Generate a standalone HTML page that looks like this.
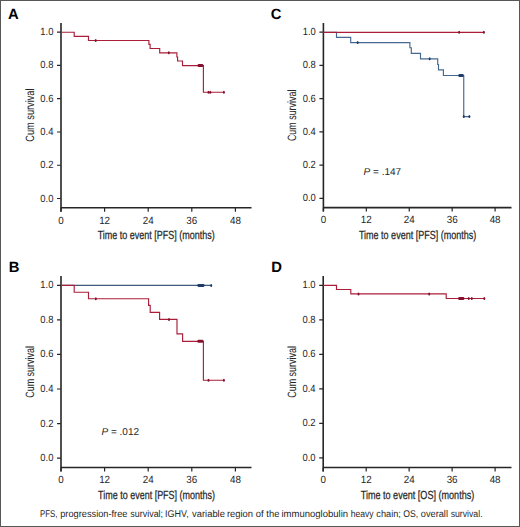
<!DOCTYPE html>
<html><head><meta charset="utf-8"><title>Figure</title>
<style>html,body{margin:0;padding:0;background:#fff;}svg{display:block;text-rendering:geometricPrecision;font-family:"Liberation Sans",sans-serif;}</style>
</head><body>
<svg width="520" height="527" viewBox="0 0 520 527">
<rect x="0" y="0" width="520" height="527" fill="#fff"/>
<rect x="0.5" y="0.5" width="519" height="526" fill="none" stroke="#575757" stroke-width="1"/>
<text x="7.9" y="19.2" font-family="Liberation Sans" font-weight="bold" font-size="14.8" fill="#000">A</text>
<path d="M61,23 V211.7 M61,207.7 H251.5" stroke="#262626" stroke-width="1.6" fill="none"/>
<text transform="translate(53.4,201.5) scale(0.905,1)" text-anchor="end" font-family="Liberation Sans" font-size="10.4" fill="#262626">0.0</text>
<text transform="translate(53.4,168.24) scale(0.905,1)" text-anchor="end" font-family="Liberation Sans" font-size="10.4" fill="#262626">0.2</text>
<text transform="translate(53.4,134.98) scale(0.905,1)" text-anchor="end" font-family="Liberation Sans" font-size="10.4" fill="#262626">0.4</text>
<text transform="translate(53.4,101.72) scale(0.905,1)" text-anchor="end" font-family="Liberation Sans" font-size="10.4" fill="#262626">0.6</text>
<text transform="translate(53.4,68.46) scale(0.905,1)" text-anchor="end" font-family="Liberation Sans" font-size="10.4" fill="#262626">0.8</text>
<text transform="translate(53.4,35.2) scale(0.905,1)" text-anchor="end" font-family="Liberation Sans" font-size="10.4" fill="#262626">1.0</text>
<text transform="translate(61,223.5) scale(0.945,1)" text-anchor="middle" font-family="Liberation Sans" font-size="10.4" fill="#262626">0</text>
<text transform="translate(104.6,223.5) scale(0.945,1)" text-anchor="middle" font-family="Liberation Sans" font-size="10.4" fill="#262626">12</text>
<text transform="translate(148.2,223.5) scale(0.945,1)" text-anchor="middle" font-family="Liberation Sans" font-size="10.4" fill="#262626">24</text>
<text transform="translate(191.8,223.5) scale(0.945,1)" text-anchor="middle" font-family="Liberation Sans" font-size="10.4" fill="#262626">36</text>
<text transform="translate(235.4,223.5) scale(0.945,1)" text-anchor="middle" font-family="Liberation Sans" font-size="10.4" fill="#262626">48</text>
<path d="M57,198.5 H61 M57,165.24 H61 M57,131.98 H61 M57,98.72 H61 M57,65.46 H61 M57,32.2 H61 M61,207.7 V211.7 M104.6,207.7 V211.7 M148.2,207.7 V211.7 M191.8,207.7 V211.7 M235.4,207.7 V211.7" stroke="#262626" stroke-width="1.2" fill="none"/>
<text x="97.7" y="239" font-family="Liberation Sans" font-size="11.8" fill="#262626" stroke="#262626" stroke-width="0.25" textLength="117.1" lengthAdjust="spacingAndGlyphs">Time to event [PFS] (months)</text>
<text transform="translate(34,141.7) rotate(-90)" x="0" y="0" font-family="Liberation Sans" font-size="12.0" fill="#262626" textLength="53.2" lengthAdjust="spacingAndGlyphs">Cum survival</text>
<path d="M61,32.2 H74.2 V36.3 H88.5 V40.5 H148.9 V44.4 H150.1 V48.5 H159.7 V52.8 H176.9 V57 H177.6 V61 H182.5 V65.6 H203.4 V92.2 H223.9" stroke="#ab1e3a" stroke-width="1.15" fill="none"/>
<ellipse cx="95.7" cy="40.5" rx="1.0" ry="1.5" fill="#87102f"/>
<ellipse cx="168.8" cy="52.8" rx="1.0" ry="1.5" fill="#87102f"/>
<ellipse cx="208.5" cy="92.2" rx="1.0" ry="1.5" fill="#87102f"/>
<ellipse cx="210.3" cy="92.2" rx="1.0" ry="1.5" fill="#87102f"/>
<ellipse cx="223.9" cy="92.2" rx="1.0" ry="1.5" fill="#87102f"/>
<rect x="197.5" y="64.1" width="5.9" height="3" rx="1.3" fill="#87102f"/>
<text x="8.7" y="272" font-family="Liberation Sans" font-weight="bold" font-size="14.8" fill="#000">B</text>
<path d="M61,276 V471.5 M61,467.5 H251.5" stroke="#262626" stroke-width="1.6" fill="none"/>
<text transform="translate(53.4,461.1) scale(0.905,1)" text-anchor="end" font-family="Liberation Sans" font-size="10.4" fill="#262626">0.0</text>
<text transform="translate(53.4,426.54) scale(0.905,1)" text-anchor="end" font-family="Liberation Sans" font-size="10.4" fill="#262626">0.2</text>
<text transform="translate(53.4,391.98) scale(0.905,1)" text-anchor="end" font-family="Liberation Sans" font-size="10.4" fill="#262626">0.4</text>
<text transform="translate(53.4,357.42) scale(0.905,1)" text-anchor="end" font-family="Liberation Sans" font-size="10.4" fill="#262626">0.6</text>
<text transform="translate(53.4,322.86) scale(0.905,1)" text-anchor="end" font-family="Liberation Sans" font-size="10.4" fill="#262626">0.8</text>
<text transform="translate(53.4,288.3) scale(0.905,1)" text-anchor="end" font-family="Liberation Sans" font-size="10.4" fill="#262626">1.0</text>
<text transform="translate(61,483.3) scale(0.945,1)" text-anchor="middle" font-family="Liberation Sans" font-size="10.4" fill="#262626">0</text>
<text transform="translate(104.6,483.3) scale(0.945,1)" text-anchor="middle" font-family="Liberation Sans" font-size="10.4" fill="#262626">12</text>
<text transform="translate(148.2,483.3) scale(0.945,1)" text-anchor="middle" font-family="Liberation Sans" font-size="10.4" fill="#262626">24</text>
<text transform="translate(191.8,483.3) scale(0.945,1)" text-anchor="middle" font-family="Liberation Sans" font-size="10.4" fill="#262626">36</text>
<text transform="translate(235.4,483.3) scale(0.945,1)" text-anchor="middle" font-family="Liberation Sans" font-size="10.4" fill="#262626">48</text>
<path d="M57,458.1 H61 M57,423.54 H61 M57,388.98 H61 M57,354.42 H61 M57,319.86 H61 M57,285.3 H61 M61,467.5 V471.5 M104.6,467.5 V471.5 M148.2,467.5 V471.5 M191.8,467.5 V471.5 M235.4,467.5 V471.5" stroke="#262626" stroke-width="1.2" fill="none"/>
<text x="98.1" y="499" font-family="Liberation Sans" font-size="11.8" fill="#262626" stroke="#262626" stroke-width="0.25" textLength="116.9" lengthAdjust="spacingAndGlyphs">Time to event [PFS] (months)</text>
<text transform="translate(33.6,397.8) rotate(-90)" x="0" y="0" font-family="Liberation Sans" font-size="12.0" fill="#262626" textLength="51.8" lengthAdjust="spacingAndGlyphs">Cum survival</text>
<path d="M61,285.4 H211.2" stroke="#3d5a7c" stroke-width="1.15" fill="none"/>
<ellipse cx="211.2" cy="285.4" rx="1.0" ry="1.5" fill="#1f3a66"/>
<rect x="197.3" y="283.9" width="7.3" height="3" rx="1.3" fill="#1f3a66"/>
<path d="M61,285.3 H74.2 V292.2 H88.5 V298.7 H148.6 V305.4 H150.2 V312.4 H159.6 V319.4 H177 V333.8 H182.6 V341.3 H203.4 V380.2 H223.9" stroke="#ab1e3a" stroke-width="1.15" fill="none"/>
<ellipse cx="95.8" cy="298.7" rx="1.0" ry="1.5" fill="#87102f"/>
<ellipse cx="169" cy="319.4" rx="1.0" ry="1.5" fill="#87102f"/>
<ellipse cx="208.5" cy="380.2" rx="1.0" ry="1.5" fill="#87102f"/>
<ellipse cx="223.9" cy="380.2" rx="1.0" ry="1.5" fill="#87102f"/>
<rect x="197.3" y="339.8" width="6.1" height="3" rx="1.3" fill="#87102f"/>
<text x="270.7" y="19.4" font-family="Liberation Sans" font-weight="bold" font-size="14.8" fill="#000">C</text>
<path d="M323.4,23 V211.6 M323.4,207.6 H511.5" stroke="#262626" stroke-width="1.6" fill="none"/>
<text transform="translate(315.8,201.4) scale(0.905,1)" text-anchor="end" font-family="Liberation Sans" font-size="10.4" fill="#262626">0.0</text>
<text transform="translate(315.8,168.16) scale(0.905,1)" text-anchor="end" font-family="Liberation Sans" font-size="10.4" fill="#262626">0.2</text>
<text transform="translate(315.8,134.92) scale(0.905,1)" text-anchor="end" font-family="Liberation Sans" font-size="10.4" fill="#262626">0.4</text>
<text transform="translate(315.8,101.68) scale(0.905,1)" text-anchor="end" font-family="Liberation Sans" font-size="10.4" fill="#262626">0.6</text>
<text transform="translate(315.8,68.44) scale(0.905,1)" text-anchor="end" font-family="Liberation Sans" font-size="10.4" fill="#262626">0.8</text>
<text transform="translate(315.8,35.2) scale(0.905,1)" text-anchor="end" font-family="Liberation Sans" font-size="10.4" fill="#262626">1.0</text>
<text transform="translate(323.4,223.4) scale(0.945,1)" text-anchor="middle" font-family="Liberation Sans" font-size="10.4" fill="#262626">0</text>
<text transform="translate(366.32,223.4) scale(0.945,1)" text-anchor="middle" font-family="Liberation Sans" font-size="10.4" fill="#262626">12</text>
<text transform="translate(409.25,223.4) scale(0.945,1)" text-anchor="middle" font-family="Liberation Sans" font-size="10.4" fill="#262626">24</text>
<text transform="translate(452.18,223.4) scale(0.945,1)" text-anchor="middle" font-family="Liberation Sans" font-size="10.4" fill="#262626">36</text>
<text transform="translate(495.1,223.4) scale(0.945,1)" text-anchor="middle" font-family="Liberation Sans" font-size="10.4" fill="#262626">48</text>
<path d="M319.4,198.4 H323.4 M319.4,165.16 H323.4 M319.4,131.92 H323.4 M319.4,98.68 H323.4 M319.4,65.44 H323.4 M319.4,32.2 H323.4 M323.4,207.6 V211.6 M366.32,207.6 V211.6 M409.25,207.6 V211.6 M452.18,207.6 V211.6 M495.1,207.6 V211.6" stroke="#262626" stroke-width="1.2" fill="none"/>
<text x="358.9" y="239" font-family="Liberation Sans" font-size="11.8" fill="#262626" stroke="#262626" stroke-width="0.25" textLength="117.4" lengthAdjust="spacingAndGlyphs">Time to event [PFS] (months)</text>
<text transform="translate(295.6,141.1) rotate(-90)" x="0" y="0" font-family="Liberation Sans" font-size="12.0" fill="#262626" textLength="51.5" lengthAdjust="spacingAndGlyphs">Cum survival</text>
<path d="M323.4,32.3 H336.5 V37.3 H350.7 V42.6 H409.9 V47.7 H411.3 V53.3 H420.5 V58.8 H437.7 V64.5 H438.5 V69.9 H443.4 V75.5 H463.75 V116.6 H469.4" stroke="#456890" stroke-width="1.15" fill="none"/>
<ellipse cx="357.7" cy="42.6" rx="1.0" ry="1.5" fill="#1e3c68"/>
<ellipse cx="429.7" cy="58.8" rx="1.0" ry="1.5" fill="#1e3c68"/>
<ellipse cx="469.4" cy="116.6" rx="1.0" ry="1.5" fill="#1e3c68"/>
<ellipse cx="463.75" cy="116.6" rx="1.0" ry="1.5" fill="#1e3c68"/>
<rect x="458.3" y="74" width="5.45" height="3" rx="1.3" fill="#1e3c68"/>
<path d="M323.4,32.35 H484" stroke="#ab1e3a" stroke-width="1.15" fill="none"/>
<ellipse cx="459.1" cy="32.35" rx="1.0" ry="1.5" fill="#87102f"/>
<ellipse cx="483.9" cy="32.35" rx="1.0" ry="1.5" fill="#87102f"/>
<text x="271.3" y="272" font-family="Liberation Sans" font-weight="bold" font-size="14.8" fill="#000">D</text>
<path d="M323.2,276 V471.5 M323.2,467.5 H511.5" stroke="#262626" stroke-width="1.6" fill="none"/>
<text transform="translate(315.6,460.9) scale(0.905,1)" text-anchor="end" font-family="Liberation Sans" font-size="10.4" fill="#262626">0.0</text>
<text transform="translate(315.6,426.4) scale(0.905,1)" text-anchor="end" font-family="Liberation Sans" font-size="10.4" fill="#262626">0.2</text>
<text transform="translate(315.6,391.9) scale(0.905,1)" text-anchor="end" font-family="Liberation Sans" font-size="10.4" fill="#262626">0.4</text>
<text transform="translate(315.6,357.4) scale(0.905,1)" text-anchor="end" font-family="Liberation Sans" font-size="10.4" fill="#262626">0.6</text>
<text transform="translate(315.6,322.9) scale(0.905,1)" text-anchor="end" font-family="Liberation Sans" font-size="10.4" fill="#262626">0.8</text>
<text transform="translate(315.6,288.4) scale(0.905,1)" text-anchor="end" font-family="Liberation Sans" font-size="10.4" fill="#262626">1.0</text>
<text transform="translate(323.2,483.3) scale(0.945,1)" text-anchor="middle" font-family="Liberation Sans" font-size="10.4" fill="#262626">0</text>
<text transform="translate(366.18,483.3) scale(0.945,1)" text-anchor="middle" font-family="Liberation Sans" font-size="10.4" fill="#262626">12</text>
<text transform="translate(409.15,483.3) scale(0.945,1)" text-anchor="middle" font-family="Liberation Sans" font-size="10.4" fill="#262626">24</text>
<text transform="translate(452.12,483.3) scale(0.945,1)" text-anchor="middle" font-family="Liberation Sans" font-size="10.4" fill="#262626">36</text>
<text transform="translate(495.1,483.3) scale(0.945,1)" text-anchor="middle" font-family="Liberation Sans" font-size="10.4" fill="#262626">48</text>
<path d="M319.2,457.9 H323.2 M319.2,423.4 H323.2 M319.2,388.9 H323.2 M319.2,354.4 H323.2 M319.2,319.9 H323.2 M319.2,285.4 H323.2 M323.2,467.5 V471.5 M366.18,467.5 V471.5 M409.15,467.5 V471.5 M452.12,467.5 V471.5 M495.1,467.5 V471.5" stroke="#262626" stroke-width="1.2" fill="none"/>
<text x="360.7" y="499" font-family="Liberation Sans" font-size="11.8" fill="#262626" stroke="#262626" stroke-width="0.25" textLength="113.6" lengthAdjust="spacingAndGlyphs">Time to event [OS] (months)</text>
<text transform="translate(295.6,397.8) rotate(-90)" x="0" y="0" font-family="Liberation Sans" font-size="12.0" fill="#262626" textLength="51.8" lengthAdjust="spacingAndGlyphs">Cum survival</text>
<path d="M323.2,285.4 H336.5 V289.5 H350.8 V293.9 H446.2 V298.5 H484.3" stroke="#ab1e3a" stroke-width="1.15" fill="none"/>
<ellipse cx="358.5" cy="293.9" rx="1.0" ry="1.5" fill="#87102f"/>
<ellipse cx="429.2" cy="293.9" rx="1.0" ry="1.5" fill="#87102f"/>
<ellipse cx="468.7" cy="298.5" rx="1.0" ry="1.5" fill="#87102f"/>
<ellipse cx="471.8" cy="298.5" rx="1.0" ry="1.5" fill="#87102f"/>
<ellipse cx="484.3" cy="298.5" rx="1.0" ry="1.5" fill="#87102f"/>
<rect x="458.1" y="297" width="6.3" height="3" rx="1.3" fill="#87102f"/>
<text x="101.5" y="435.2" font-family="Liberation Sans" font-size="10" fill="#262626"><tspan font-style="italic">P</tspan> = .012</text>
<text x="363.6" y="175.3" font-family="Liberation Sans" font-size="10" fill="#262626"><tspan font-style="italic">P</tspan> = .147</text>
<text x="40.05" y="517.0" font-family="Liberation Sans" font-size="9.8" fill="#262626" textLength="17.45" lengthAdjust="spacingAndGlyphs">PFS,</text>
<text x="60.22" y="517.0" font-family="Liberation Sans" font-size="9.8" fill="#262626" textLength="67.25" lengthAdjust="spacingAndGlyphs">progression-free</text>
<text x="130.34" y="517.0" font-family="Liberation Sans" font-size="9.8" fill="#262626" textLength="32.75" lengthAdjust="spacingAndGlyphs">survival;</text>
<text x="165.06" y="517.0" font-family="Liberation Sans" font-size="9.8" fill="#262626" textLength="23.65" lengthAdjust="spacingAndGlyphs">IGHV,</text>
<text x="192.07" y="517.0" font-family="Liberation Sans" font-size="9.8" fill="#262626" textLength="32.85" lengthAdjust="spacingAndGlyphs">variable</text>
<text x="226.9" y="517.0" font-family="Liberation Sans" font-size="9.8" fill="#262626" textLength="26.05" lengthAdjust="spacingAndGlyphs">region</text>
<text x="255.72" y="517.0" font-family="Liberation Sans" font-size="9.8" fill="#262626" textLength="7.85" lengthAdjust="spacingAndGlyphs">of</text>
<text x="266.36" y="517.0" font-family="Liberation Sans" font-size="9.8" fill="#262626" textLength="13.05" lengthAdjust="spacingAndGlyphs">the</text>
<text x="281.49" y="517.0" font-family="Liberation Sans" font-size="9.8" fill="#262626" textLength="66.65" lengthAdjust="spacingAndGlyphs">immunoglobulin</text>
<text x="350.67" y="517.0" font-family="Liberation Sans" font-size="9.8" fill="#262626" textLength="22.85" lengthAdjust="spacingAndGlyphs">heavy</text>
<text x="376.32" y="517.0" font-family="Liberation Sans" font-size="9.8" fill="#262626" textLength="24.55" lengthAdjust="spacingAndGlyphs">chain;</text>
<text x="403.37" y="517.0" font-family="Liberation Sans" font-size="9.8" fill="#262626" textLength="14.85" lengthAdjust="spacingAndGlyphs">OS,</text>
<text x="420.82" y="517.0" font-family="Liberation Sans" font-size="9.8" fill="#262626" textLength="27.15" lengthAdjust="spacingAndGlyphs">overall</text>
<text x="450.64" y="517.0" font-family="Liberation Sans" font-size="9.8" fill="#262626" textLength="31.95" lengthAdjust="spacingAndGlyphs">survival.</text>
</svg>
</body></html>
